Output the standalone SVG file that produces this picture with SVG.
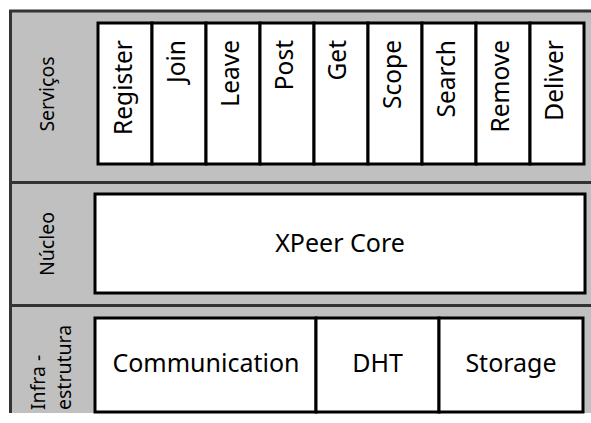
<svg xmlns="http://www.w3.org/2000/svg" width="591" height="423" viewBox="0 0 591 423">
<style>
.band{fill:#c0c0c0}
.sep{stroke:#333;stroke-width:3;fill:none}
.box{fill:#fff;stroke:#000;stroke-width:3}
.t{font-family:"Noto Sans","Open Sans","DejaVu Sans",sans-serif;fill:#000}
.svc{font-size:24.5px;text-anchor:end}
.lbl{font-size:19.5px;text-anchor:middle}
.big{font-size:25px;text-anchor:middle}
</style>
<rect x="0" y="0" width="591" height="423" fill="#fff"/>
<g id="layers">
<rect class="band" x="10" y="10" width="590" height="403"/>
<path class="sep" d="M10.5 413V11H591"/>
<path class="sep" d="M10 182.5H591M10 305.5H591"/>
<text class="t lbl" transform="translate(54,94) rotate(-90)">Serviços</text>
<text class="t lbl" transform="translate(54,244) rotate(-90)">Núcleo</text>
<text class="t lbl" transform="translate(45,410) rotate(-90)" style="text-anchor:start">Infra -</text>
<text class="t lbl" transform="translate(71,410) rotate(-90)" style="text-anchor:start">estrutura</text>
</g>
<g id="connectors"></g>
<g id="register"><rect class="box" x="98" y="23" width="54" height="141"/><text class="t svc" transform="translate(132,40) rotate(-90)">Register</text></g>
<g id="join"><rect class="box" x="152" y="23" width="54" height="141"/><text class="t svc" transform="translate(185,40) rotate(-90)">Join</text></g>
<g id="leave"><rect class="box" x="206" y="23" width="54" height="141"/><text class="t svc" transform="translate(239,40) rotate(-90)">Leave</text></g>
<g id="post"><rect class="box" x="260" y="23" width="54" height="141"/><text class="t svc" transform="translate(293,40) rotate(-90)">Post</text></g>
<g id="get"><rect class="box" x="314" y="23" width="54" height="141"/><text class="t svc" transform="translate(346,40) rotate(-90)">Get</text></g>
<g id="scope"><rect class="box" x="368" y="23" width="54" height="141"/><text class="t svc" transform="translate(401,40) rotate(-90)">Scope</text></g>
<g id="search"><rect class="box" x="422" y="23" width="54" height="141"/><text class="t svc" transform="translate(455,40) rotate(-90)">Search</text></g>
<g id="remove"><rect class="box" x="476" y="23" width="54" height="141"/><text class="t svc" transform="translate(509,40) rotate(-90)">Remove</text></g>
<g id="deliver"><rect class="box" x="530" y="23" width="54" height="141"/><text class="t svc" transform="translate(563,40) rotate(-90)">Deliver</text></g>
<g id="core"><rect class="box" x="95" y="194" width="490" height="99"/><text class="t big" x="340" y="252">XPeer Core</text></g>
<g id="communication"><rect class="box" x="95" y="318" width="221" height="94"/><text class="t big" x="206" y="372">Communication</text></g>
<g id="dht"><rect class="box" x="316" y="318" width="123" height="94"/><text class="t big" x="377.5" y="372">DHT</text></g>
<g id="storage"><rect class="box" x="439" y="318" width="144" height="94"/><text class="t big" x="511" y="372">Storage</text></g>
</svg>
